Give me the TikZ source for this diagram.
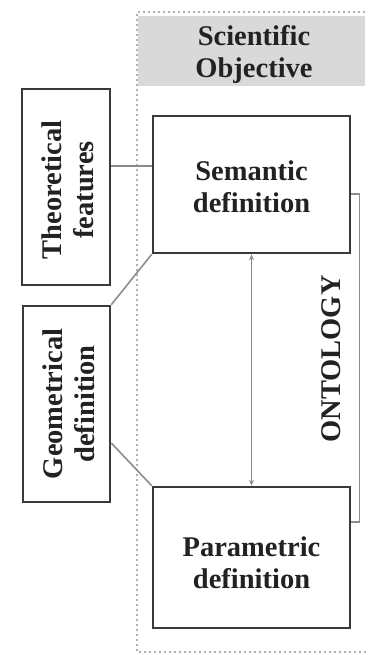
\documentclass[tikz,border=0pt]{standalone}
\usepackage{fontspec}
\setmainfont{Liberation Serif}
\usetikzlibrary{arrows.meta}
\definecolor{boxline}{HTML}{3A3A3A}
\definecolor{connline}{HTML}{8C8C8C}
\definecolor{dotline}{HTML}{B0B0B0}
\definecolor{scifill}{HTML}{D9D9D9}
\definecolor{txt}{HTML}{222222}
\begin{document}
\begin{tikzpicture}[x=1pt,y=-1pt,
  every node/.style={font=\fontsize{28.5}{32}\selectfont\bfseries, text=txt, align=center, inner sep=0pt},
  defbox/.style={draw=boxline, line width=2.6pt, fill=white},
  conn/.style={draw=connline, line width=1.6pt},
  container/.style={draw=dotline, line width=2pt, dash pattern=on 2pt off 3pt}]
\useasboundingbox (0,0) rectangle (367,655);
% dotted container
\coordinate (ctl) at (137,12);
\coordinate (cbl) at (137,652);
\draw[container] (ctl -| 370,0) -- (ctl) -- (cbl) -- (cbl -| 370,0);
% scientific objective
\node[fill=scifill, minimum width=227pt, minimum height=70pt] (sci) at (251.5,51) {};
\node at (254,55) {Scientific\\Objective};
% boxes
\node[defbox, minimum width=88pt, minimum height=196pt] (theo) at (66,187) {};
\node[rotate=90] at ([xshift=2pt,yshift=-3pt]theo.center) {Theoretical\\features};
\node[defbox, minimum width=87pt, minimum height=196pt] (geo) at (66.5,404) {};
\node[rotate=90] at ([xshift=2pt]geo.center) {Geometrical\\definition};
\node[defbox, minimum width=197pt, minimum height=137pt] (sem) at (251.5,184.5) {};
\node at ([yshift=-2pt]sem.center) {Semantic\\definition};
\node[defbox, minimum width=197pt, minimum height=141pt] (par) at (251.5,557.5) {};
\node at ([yshift=-5pt]par.center) {Parametric\\definition};
% ontology label
\node[rotate=90] (ont) at (331,359) {ONTOLOGY};
% connectors
\draw[conn] (theo.east |- 0,166) -- (sem.west |- 0,166);
\draw[conn] (sem.south west) -- (geo.north east);
\draw[conn] (geo.east |- 0,443) -- (par.north west);
\draw[conn, line width=1.2pt, {Stealth[length=6pt,width=5pt]}-{Stealth[length=6pt,width=5pt]}] (sem.south) -- (par.north);
\draw[conn] (sem.east |- 0,194) -- ++(8,0) |- (par.east |- 0,522);
\end{tikzpicture}
\end{document}
